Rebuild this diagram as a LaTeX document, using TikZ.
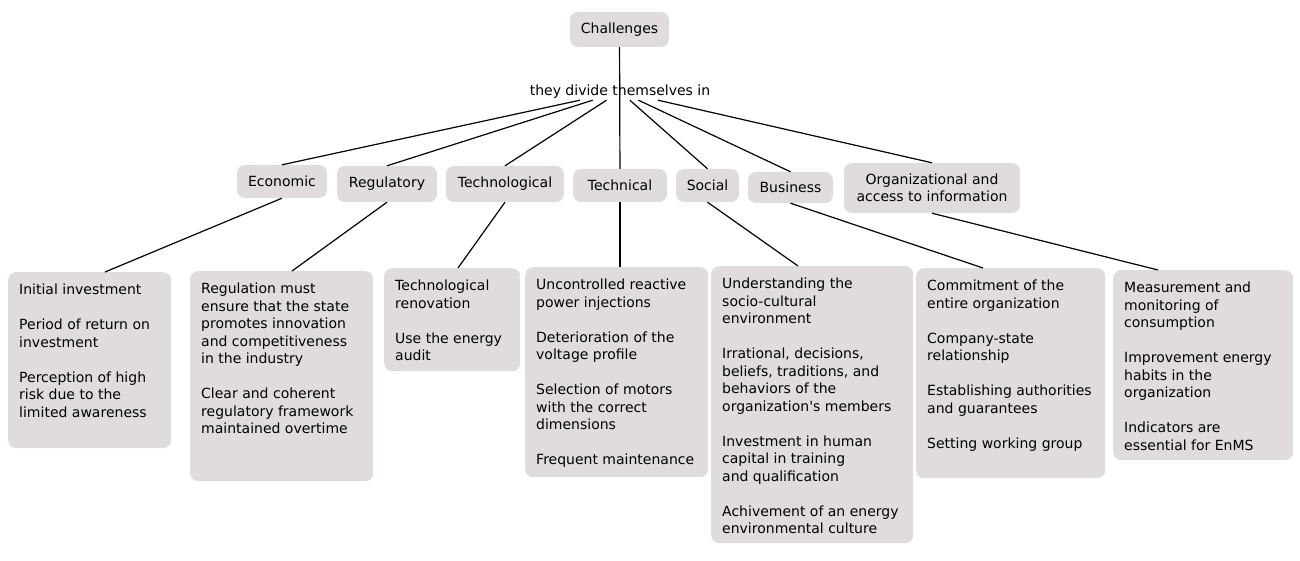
\documentclass[tikz,border=0pt]{standalone}
\usepackage{fontspec}
\setmainfont{DejaVu Sans}[Ligatures=TeXOff]
\usetikzlibrary{calc}
\definecolor{boxgray}{RGB}{224,220,219}
\newcommand{\dtxt}[3]{\parbox[c][#2][t]{#1}{\fontsize{14pt}{17.5pt}\selectfont\setlength{\parskip}{17.4pt}\raggedright #3}}
\begin{document}
\begin{tikzpicture}[x=1pt,y=-1pt,
  cat/.style={fill=boxgray, rounded corners=8pt, inner sep=0pt, align=center,
    font=\fontsize{14pt}{17pt}\selectfont},
  dbox/.style={fill=boxgray, rounded corners=8pt, anchor=north west,
    inner xsep=11pt, inner ysep=12pt},
  conn/.style={line width=1.2pt}]
\useasboundingbox (0,0) rectangle (1300,561);
% top
\node[cat, minimum width=99pt, minimum height=35pt] (ch) at (619.5,29.5) {Challenges};
\node[inner sep=0pt, minimum height=17pt, font=\fontsize{14pt}{17pt}\selectfont] (lab) at (620,91.5) {they divide themselves in};
% categories
\node[cat, minimum width=90pt, minimum height=33pt] (econ) at (282,181.5) {Economic};
\node[cat, minimum width=100pt, minimum height=36pt] (reg) at (387,184) {Regulatory};
\node[cat, minimum width=118pt, minimum height=36pt] (techno) at (505,184) {Technological};
\node[cat, minimum width=94pt, minimum height=33pt] (techn) at (620,185.5) {Technical};
\node[cat, minimum width=63pt, minimum height=33pt] (soc) at (707.5,185.5) {Social};
\node[cat, minimum width=85pt, minimum height=31pt] (bus) at (790.5,187.5) {Business};
\node[cat, minimum width=176pt, minimum height=50pt] (org) at (932,188) {Organizational and\\access to information};
% detail boxes
\node[dbox] (econD) at (8,272) {\dtxt{141pt}{152pt}{Initial investment\par Period of return on\\investment\par Perception of high\\risk due to the\\limited awareness}};
\node[dbox] (regD) at (190,271) {\dtxt{161pt}{186pt}{Regulation must\\ensure that the state\\promotes innovation\\and competitiveness\\in the industry\par Clear and coherent\\regulatory framework\\maintained overtime}};
\node[dbox] (technoD) at (384,268) {\dtxt{114pt}{79pt}{Technological\\renovation\par Use the energy\\audit}};
\node[dbox] (technD) at (525,267) {\dtxt{161pt}{186pt}{Uncontrolled reactive\\power injections\par Deterioration of the\\voltage profile\par Selection of motors\\with the correct\\dimensions\par Frequent maintenance}};
\node[dbox] (socD) at (711,266) {\dtxt{180pt}{253pt}{Understanding the\\socio-cultural\\environment\par Irrational, decisions,\\beliefs, traditions, and\\behaviors of the\\organization's members\par Investment in human\\capital in training\\and qualification\par Achivement of an energy\\environmental culture}};
\node[dbox] (busD) at (916,268) {\dtxt{167pt}{186pt}{Commitment of the\\entire organization\par Company-state\\relationship\par Establishing authorities\\and guarantees\par Setting working group}};
\node[dbox] (orgD) at (1113,270) {\dtxt{158pt}{166pt}{Measurement and\\monitoring of\\consumption\par Improvement energy\\habits in the\\organization\par Indicators are\\essential for EnMS}};
% connectors
\draw[conn] (ch) -- (techn);
\draw[conn] (lab) -- (econ.north);
\draw[conn] (lab) -- (reg.north);
\draw[conn] (lab) -- (techno.north);
\draw[conn] (lab) -- (soc.north);
\draw[conn] (lab) -- (bus.north);
\draw[conn] (lab) -- (org.north);
\draw[conn] (econ.south) -- ([xshift=97pt]econD.north west);
\draw[conn] (reg.south) -- ([xshift=102pt]regD.north west);
\draw[conn] (techno.south) -- ([xshift=74pt]technoD.north west);
\draw[conn] (techn.south) -- ([xshift=95pt]technD.north west);
\draw[conn] (soc.south) -- ([xshift=87pt]socD.north west);
\draw[conn] (bus.south) -- ([xshift=67pt]busD.north west);
\draw[conn] (org.south) -- ([xshift=45pt]orgD.north west);
\end{tikzpicture}
\end{document}
